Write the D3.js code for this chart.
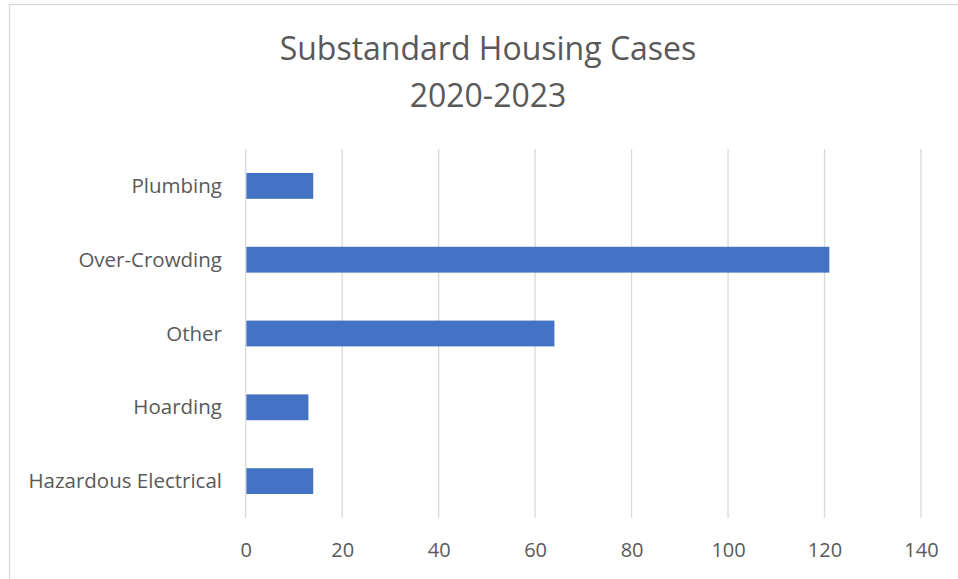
<!DOCTYPE html>
<meta charset="utf-8" />
<script src="https://d3js.org/d3.v7.min.js"></script>
<style>
  body { margin: 0; background: #fff; }
  text { font-family: "Open Sans", sans-serif; fill: #595959; }
</style>
<svg id="chart" width="958" height="579"></svg>
<script>
  // data, top to bottom as in the chart
  var categories = ["Plumbing", "Over-Crowding", "Other", "Hoarding", "Hazardous Electrical"];
  var cases = [14, 121, 64, 13, 14];
  var xTicks = [0, 20, 40, 60, 80, 100, 120, 140];
  var titleLines = ["Substandard Housing Cases", "2020-2023"];

  var svg = d3.select("#chart");

  // chart frame
  svg.append("rect")
    .attr("x", 9.5).attr("y", 4.5)
    .attr("width", 960).attr("height", 590)
    .attr("fill", "#fff")
    .attr("stroke", "#d9d9d9")
    .attr("stroke-width", 1.3);

  var plotLeft = 245.7, plotRight = 921, plotTop = 149, plotBottom = 518;

  var x = d3.scaleLinear().domain([0, 140]).range([plotLeft, plotRight]);
  var y = d3.scaleBand().domain(categories).range([plotTop, plotBottom])
    .paddingInner(0.65).paddingOuter(0.325);

  // title
  svg.append("g").selectAll("text")
    .data(titleLines)
    .enter().append("text")
    .attr("x", 488)
    .attr("y", function(d, i) { return 60 + i * 47; })
    .attr("text-anchor", "middle")
    .style("font-size", "32px")
    .text(function(d) { return d; });

  // vertical gridlines
  svg.append("g").selectAll("line")
    .data(xTicks)
    .enter().append("line")
    .attr("x1", function(d) { return x(d); })
    .attr("x2", function(d) { return x(d); })
    .attr("y1", plotTop).attr("y2", plotBottom)
    .attr("stroke", "#d9d9d9")
    .attr("stroke-width", 1.3);

  // bars
  svg.append("g").selectAll("rect")
    .data(categories)
    .enter().append("rect")
    .attr("x", x(0) + 0.7)
    .attr("y", function(d) { return y(d); })
    .attr("width", function(d, i) { return x(cases[i]) - x(0) - 0.7; })
    .attr("height", y.bandwidth())
    .attr("fill", "#4472c4");

  // x axis labels
  var xAxis = d3.axisBottom(x).tickValues(xTicks).tickSize(0).tickPadding(0);
  var gx = svg.append("g")
    .attr("transform", "translate(0," + 557 + ")")
    .call(xAxis);
  gx.select(".domain").remove();
  gx.selectAll("text")
    .attr("dy", 0)
    .style("font-size", "20px")
    .style("font-family", "'Open Sans', sans-serif")
    .attr("fill", "#595959");

  // category labels
  var yAxis = d3.axisLeft(y).tickSize(0).tickPadding(0);
  var gy = svg.append("g")
    .attr("transform", "translate(" + 222 + ",0)")
    .call(yAxis);
  gy.select(".domain").remove();
  gy.selectAll("text")
    .attr("dy", "0.35em")
    .style("font-size", "20.5px")
    .style("font-family", "'Open Sans', sans-serif")
    .attr("fill", "#595959");
</script>
